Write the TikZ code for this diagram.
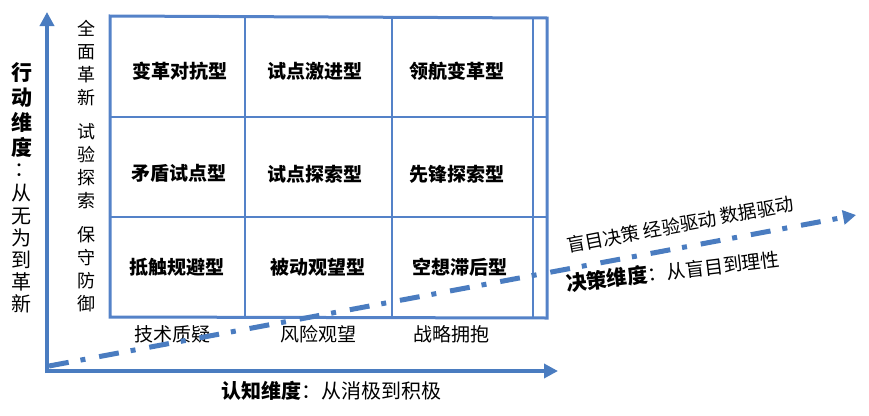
\documentclass[tikz,border=0pt]{standalone}
\usepackage{fontspec}
\setmainfont{Noto Sans CJK SC}
\usetikzlibrary{arrows.meta}
\definecolor{gridblue}{RGB}{84,130,200}
\definecolor{axisblue}{RGB}{74,124,192}
\begin{document}
\begin{tikzpicture}[x=1pt,y=-1pt,
  cell/.style={font=\fontsize{19}{19}\selectfont\bfseries, inner sep=0pt},
  lab/.style={font=\fontsize{19}{19}\selectfont, inner sep=0pt},
  vlab/.style={font=\fontsize{18}{23}\selectfont, align=center, inner sep=0pt},
  gridline/.style={draw=gridblue, line width=2pt},
  gridborder/.style={draw=gridblue, line width=3pt},
  axis/.style={draw=axisblue, line width=4pt, -{Triangle[length=14pt,width=14pt]}},
  diag/.style={draw=axisblue, line width=5pt, dash pattern=on 20pt off 12pt on 5pt off 14pt, -{Triangle[length=13pt,width=14pt]}}]
\useasboundingbox (0,0) rectangle (869,415);
% grid
\draw[gridline] (245,17) -- (245,317);
\draw[gridline] (392,17) -- (392,317);
\draw[gridline] (533,17) -- (533,317);
\draw[gridline] (110,117) -- (547,117);
\draw[gridline] (110,217) -- (547,217);
\draw[gridborder] (110,16) -- (547,18) -- (547,318) -- (110,317) -- cycle;
% cell texts
\node[cell] (c11) at (180,71) {变革对抗型};
\node[cell] (c12) at (315,71) {试点激进型};
\node[cell] (c13) at (457,71) {领航变革型};
\node[cell] (c21) at (179,173) {矛盾试点型};
\node[cell] (c22) at (315,174) {试点探索型};
\node[cell] (c23) at (457,174) {先锋探索型};
\node[cell] (c31) at (177,267) {抵触规避型};
\node[cell] (c32) at (318,267) {被动观望型};
\node[cell] (c33) at (460,267) {空想滞后型};
% vertical side labels
\node[vlab] (v1) at (86,63) {全\\面\\革\\新};
\node[vlab] (v2) at (86,166) {试\\验\\探\\索};
\node[vlab] (v3) at (86,269) {保\\守\\防\\御};
% bottom labels
\node[lab] (b1) at (172,334) {技术质疑};
\node[lab] (b2) at (318,334) {风险观望};
\node[lab] (b3) at (451,334) {战略拥抱};
% axes
\coordinate (o) at (47,371);
\coordinate (ytip) at (47,12);
\coordinate (xtip) at (558,371);
\draw[axis] ([yshift=-2pt]o) -- (ytip);
\draw[axis] ([xshift=-2pt]o) -- (xtip);
% axis labels
\node[font=\fontsize{21}{25}\selectfont\bfseries, align=center, inner sep=0pt] (yl1) at (22,110) {行\\动\\维\\度};
\node[font=\fontsize{20}{20}\selectfont, inner sep=0pt, anchor=base] (yl2) at (24,176) {：};
\node[font=\fontsize{20}{22.2}\selectfont, align=center, inner sep=0pt] (yl3) at (22,249) {从\\无\\为\\到\\革\\新};
\node[font=\fontsize{20}{20}\selectfont, inner sep=0pt] (xl) at (331,391) {{\bfseries 认知维度}：从消极到积极};
% diagonal
\coordinate (d0) at (49,366);
\coordinate (d1) at (856,215);
\draw[diag] (d0) -- (d1);
\node[font=\fontsize{18.5}{18.5}\selectfont, inner sep=0pt, anchor=base west, rotate=10.7] (dl1) at (568,253) {盲目决策 经验驱动 数据驱动};
\node[font=\fontsize{19}{19}\selectfont, inner sep=0pt, anchor=base west, rotate=7] (dl2) at (567,292) {{\bfseries\fontsize{20.5}{20.5}\selectfont 决策维度}：从盲目到理性};
\end{tikzpicture}
\end{document}
